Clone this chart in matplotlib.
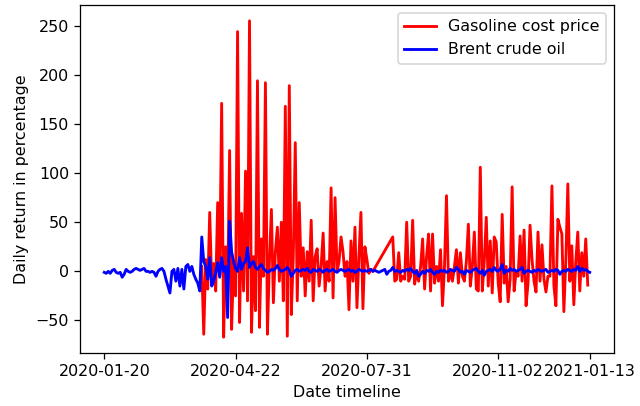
import matplotlib
matplotlib.use("Agg")
import matplotlib.pyplot as plt

# Daily percentage returns, indexed by trading day (0 = 2020-01-20)
brent_returns = [
    -1, -2, 0, -2, 1, 2, -1, -2, -1, -6,
    -3, 2, 0, -1, 0, 2, 3, 2, 1, 2,
    3, 0, 0, -1, 0, -1, -5, 0, 2, 3,
    0, -8, -15, -22, 0, 2, -10, 3, -15, 2,
    -18, 5, 7, 0, 5, -3, -8, -12, -20, 35,
    10, 5, -8, 14, -15, -10, -1, 9, -6, 14,
    0, 5, -47, 51, 20, 10, 3, 0, 14, 2,
    8, 10, 24, 4, 8, 10,
    4, 2, 5, 7, 3, 1, -1, 0, 2, 1,
    3, 6, 2, 0, 1, 2, 4, 1, -5, -2,
    1, 2, 0, 1,
    2, 1, 3, 0, -1, 2, 1, 0, 2, 1,
    -1, 1, 2, 0, 1, 2, 0, -1, 1, 2,
    1, 0, 1, 2, 0, 1, -1, 0, 2, 1,
    0, 1, 0, 1, 2, 0,
    1, 0, -1, 0, 1, 2, -3, 0, 1, 4,
    0, 1, 0, -1, 1, 0, 2, 1, 3, 0,
    -2, 1, -5, -3, 0, -2, 1, 0, 2, -1,
    -3, 0, -1, 1, 0,
    1, -1, 0, 2, 1, 0, 4, 2, -1, 0,
    -3, 1, 0, -1, 1, 2, 3, 0, -2, 1,
    -4, 0, 1, 2, 0, 4, 1, 0, 2, 7,
    -2, 1, 0, 3, 1, 2, 0, 1, 2, 4,
    -2, 0, 1, 0, -1, 1, 0, 2, 1, 0,
    1, 2, -1, 0, 1, 0, 2, 1, -3, 0,
    1, 0, 2, 1, 0, 2, 1, 5, 0, 3,
    1, 2, 0, -1,
]

# Gasoline quotes exist only on these trading days
gasoline_days = list(range(49, 136)) + list(range(145, 244))
gasoline_returns = [
    5, -64, 12, -18, 60, -12, 8, -20, 70, -3,
    171, -67, 25, -20, 123, -59, 10, -25, 244, -52,
    59, -20, 102, -30, 255, -62, 15, -40, 194, -57,
    33, -5, 192, -64, 10, 63, -32, 20, 45, -10,
    50, -30, 168, -66, 189, -44, 15, 131, -30, 70,
    -5, 24, -25, 20, -10, 52, -30, 15, 23, -15,
    5, 39, -20, 10, -10, 85, -27, 75, 0, 10,
    35, 20, -5, 10, -39, 31, -10, 45, -37, 15,
    60, -38, 25, 12, -2, 2, 0,
    35, -10, -8, 19, -10, -5, -8, 50, -10, -5,
    52, -13, 0, -10, 5, 33, -18, 15, 38, -20,
    38, -12, 5, -10, 22, -35, 5, 77, -10, 0,
    -10, 5, 22, -12, 19, -5, -10, 10, 48, -15,
    5, 40, -18, -20, 106, -20, 10, 55, -15, 31,
    -22, 35, 30, -12, -31, 58, -12, 5, -31, -8,
    86, -20, 0, -5, 36, -10, 42, -35, -12, 47,
    12, -10, -21, 40, -10, 27, -8, -21, -5, -5,
    87, -15, -35, 53, 45, 38, -41, 12, 89, -10,
    26, -34, 10, 40, -20, 19, -5, 33, -14,
]

tick_days = [0, 66, 132, 198, 244]
tick_labels = ["2020-01-20", "2020-04-22", "2020-07-31", "2020-11-02", "2021-01-13"]

dpi = 114
fig = plt.figure(figsize=(640 / dpi, 406 / dpi), dpi=dpi)
ax = fig.add_axes([80 / 640, 1 - 353 / 406, 534 / 640, 348 / 406])

ax.plot(gasoline_days, gasoline_returns, color="red", lw=1.8, label="Gasoline cost price")
ax.plot(range(len(brent_returns)), brent_returns, color="blue", lw=1.8, label="Brent crude oil")

ax.set_xticks(tick_days)
ax.set_xticklabels(tick_labels)
ax.set_yticks([-50, 0, 50, 100, 150, 200, 250])
ax.set_xlabel("Date timeline")
ax.set_ylabel("Daily return in percentage")
ax.legend(loc="upper right")

fig.savefig("out.png", dpi=dpi)
